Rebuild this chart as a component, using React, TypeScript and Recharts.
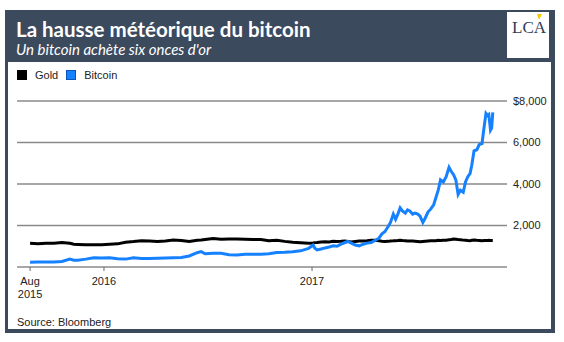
import { LineChart, Line, XAxis, YAxis, CartesianGrid, Legend } from "recharts"

const dates = [
  "2015-08-24", "2015-09-07", "2015-09-21", "2015-10-05", "2015-10-19", "2015-11-02", "2015-11-09",
  "2015-11-16", "2015-11-30", "2015-12-14", "2015-12-28", "2016-01-11", "2016-01-25", "2016-02-08",
  "2016-02-22", "2016-03-07", "2016-03-21", "2016-04-04", "2016-04-18", "2016-05-02", "2016-05-16",
  "2016-05-30", "2016-06-13", "2016-06-20", "2016-06-27", "2016-07-11", "2016-07-25", "2016-08-08",
  "2016-08-22", "2016-09-05", "2016-09-19", "2016-10-03", "2016-10-17", "2016-10-31", "2016-11-14",
  "2016-11-28", "2016-12-12", "2016-12-26",
  "2017-01-03", "2017-01-06", "2017-01-10", "2017-01-17", "2017-01-24", "2017-01-31", "2017-02-07",
  "2017-02-14", "2017-02-21", "2017-02-28", "2017-03-05", "2017-03-11", "2017-03-18", "2017-03-25",
  "2017-04-01", "2017-04-08", "2017-04-15", "2017-04-22", "2017-04-29", "2017-05-04", "2017-05-09",
  "2017-05-15", "2017-05-19", "2017-05-24", "2017-05-28", "2017-06-01", "2017-06-05", "2017-06-09",
  "2017-06-14", "2017-06-18", "2017-06-22", "2017-06-27", "2017-07-01", "2017-07-06", "2017-07-10",
  "2017-07-15", "2017-07-19", "2017-07-24", "2017-07-29", "2017-08-03", "2017-08-07", "2017-08-11",
  "2017-08-15", "2017-08-20", "2017-08-25", "2017-08-30", "2017-09-03", "2017-09-07", "2017-09-11",
  "2017-09-15", "2017-09-19", "2017-09-24", "2017-09-28", "2017-10-02", "2017-10-06", "2017-10-09",
  "2017-10-13", "2017-10-18", "2017-10-22", "2017-10-27", "2017-10-31", "2017-11-03", "2017-11-06",
  "2017-11-08", "2017-11-11", "2017-11-13", "2017-11-15",
]

const gold = [
  1150, 1125, 1140, 1150, 1180, 1140, 1100,
  1090, 1070, 1070, 1075, 1100, 1115, 1195,
  1225, 1270, 1250, 1235, 1255, 1300, 1280,
  1225, 1290, 1300, 1330, 1370, 1335, 1350,
  1345, 1340, 1330, 1320, 1270, 1285, 1235,
  1195, 1170, 1145,
  1160, 1175, 1185, 1210, 1215, 1210, 1235,
  1230, 1240, 1255, 1235, 1210, 1230, 1250,
  1255, 1265, 1290, 1285, 1265, 1240, 1230,
  1235, 1255, 1260, 1270, 1275, 1290, 1275,
  1270, 1255, 1250, 1250, 1240, 1225, 1215,
  1230, 1240, 1255, 1265, 1270, 1265, 1285,
  1280, 1290, 1295, 1315, 1330, 1350, 1335,
  1320, 1310, 1295, 1285, 1275, 1270, 1285,
  1300, 1285, 1280, 1270, 1275, 1275, 1280,
  1285, 1275, 1280, 1280,
]

const bitcoin = [
  225, 240, 235, 245, 270, 380, 330,
  330, 380, 450, 430, 450, 400, 380,
  440, 415, 415, 425, 435, 450, 460,
  530, 690, 740, 640, 660, 660, 590,
  580, 610, 610, 615, 640, 700, 710,
  735, 780, 900,
  1060, 900, 820, 870, 920, 960, 1020,
  1000, 1100, 1180, 1230, 1150, 1060, 1020,
  1100, 1150, 1180, 1280, 1400, 1600, 1700,
  1950, 2150, 2550, 2300, 2550, 2850, 2700,
  2600, 2750, 2700, 2550, 2600, 2550, 2450,
  2150, 2350, 2650, 2800, 3000, 3350, 3700,
  4200, 4100, 4350, 4800, 4600, 4450, 4200,
  3500, 3700, 3600, 4100, 4350, 4500, 4900,
  5600, 5650, 5900, 5950, 6800, 7400, 7300,
  7350, 6600, 6700, 7450,
]

const seriesNames = ["Gold", "Bitcoin"]
const xTicks = ["2015-08-24", "2016-01-01", "2017-01-01"]
const xTickLabels = [["Aug", "2015"], ["2016"], ["2017"]]
const yTicks = [0, 2000, 4000, 6000, 8000]
const yTickLabels = ["", "2,000", "4,000", "6,000", "$8,000"]

const NAVY = "#3c4a5d"
const BLUE = "#1581ff"
const SANS = '"Liberation Sans", Arial, Helvetica, sans-serif'

const ORIGIN = Date.UTC(2016, 0, 1)
function dayOf(s: string) {
  const [y, m, d] = s.split("-").map(Number)
  return Math.round((Date.UTC(y, m - 1, d) - ORIGIN) / 86400000)
}

const data = dates.map((d, i) => ({ t: dayOf(d), gold: gold[i], bitcoin: bitcoin[i] }))
const xTickDays = xTicks.map(dayOf)

function XTick({ x, y, payload }: any) {
  const lines = xTickLabels[xTickDays.indexOf(payload.value)] ?? []
  return (
    <text x={x} y={y} textAnchor="middle" fill="#222" fontSize={11} fontFamily={SANS}>
      {lines.map((l, k) => (
        <tspan key={k} x={x} dy={k === 0 ? "0.71em" : 13}>
          {l}
        </tspan>
      ))}
    </text>
  )
}

function LegendContent({ payload }: any) {
  const items = [...(payload || [])].sort(
    (a: any, b: any) => seriesNames.indexOf(a.value) - seriesNames.indexOf(b.value)
  )
  return (
    <div style={{ display: "flex", alignItems: "center", fontFamily: SANS, fontSize: 11, color: "#222" }}>
      {items.map((p: any, i: number) => (
        <div key={i} style={{ display: "flex", alignItems: "center", marginRight: 8 }}>
          <span
            style={{
              width: p.color === BLUE ? 8 : 10,
              height: p.color === BLUE ? 8 : 10,
              background: p.color,
              border: p.color === BLUE ? "1px solid #0b55b8" : "none",
              marginRight: 8,
            }}
          />
          <span>{p.value}</span>
        </div>
      ))}
    </div>
  )
}

export default function App() {
  return (
    <div style={{ position: "absolute", left: 0, top: 0, width: 564, height: 342, background: "#fff" }}>
      <svg width={564} height={342} style={{ position: "absolute", left: 0, top: 0 }}>
        <rect x={5} y={10} width={550} height={52} fill={NAVY} />
        <rect x={5} y={62} width={3} height={271} fill={NAVY} />
        <rect x={551} y={62} width={4} height={271} fill={NAVY} />
        <rect x={5} y={329} width={550} height={4} fill={NAVY} />
        <text x={16} y={37} fill="#fff" fontFamily="Lato, sans-serif" fontWeight={700} fontSize={20.5}>
          La hausse météorique du bitcoin
        </text>
        <text x={16} y={55} fill="#fff" fontFamily="Lato, sans-serif" fontStyle="italic" fontSize={15}>
          Un bitcoin achète six onces d'or
        </text>
        <rect x={507} y={12} width={42} height={46} fill="#fff" />
        <text x={529} y={33} textAnchor="middle" fontFamily='"Liberation Serif", serif' fontSize={17} fill="#2d3c58">
          LCA
        </text>
        <polygon points="537,14 542,14 539,20" fill="#f2cc00" />
        <text x={17} y={326} fill="#222" fontFamily={SANS} fontSize={11}>
          Source: Bloomberg
        </text>
      </svg>
      <div style={{ position: "absolute", left: 0, top: 0 }}>
        <LineChart width={564} height={342} data={data} margin={{ top: 101, right: 0, bottom: 45, left: 17 }}>
          <CartesianGrid vertical={false} stroke="#8a8a8a" strokeWidth={1.6} />
          <XAxis
            dataKey="t"
            type="number"
            domain={[-153, 709]}
            ticks={xTickDays}
            height={30}
            axisLine={false}
            tickLine={{ stroke: "#666" }}
            tickSize={4}
            tickMargin={6}
            tick={<XTick />}
            interval={0}
          />
          <YAxis
            orientation="right"
            width={57}
            domain={[0, 8000]}
            ticks={yTicks}
            axisLine={false}
            tickLine={false}
            tickSize={0}
            tickMargin={6}
            interval={0}
            tickFormatter={(v: number) => yTickLabels[yTicks.indexOf(v)] ?? ""}
            tick={{ fill: "#222", fontSize: 11, fontFamily: SANS }}
          />
          <Legend
            layout="horizontal"
            verticalAlign="middle"
            align="center"
            content={<LegendContent />}
            wrapperStyle={{ left: 17, top: 69, width: 220, height: 12 }}
          />
          <Line
            dataKey="gold"
            name="Gold"
            type="linear"
            stroke="#000"
            strokeWidth={3}
            dot={false}
            isAnimationActive={false}
          />
          <Line
            dataKey="bitcoin"
            name="Bitcoin"
            type="linear"
            stroke={BLUE}
            strokeWidth={3}
            dot={false}
            isAnimationActive={false}
          />
        </LineChart>
      </div>
    </div>
  )
}
